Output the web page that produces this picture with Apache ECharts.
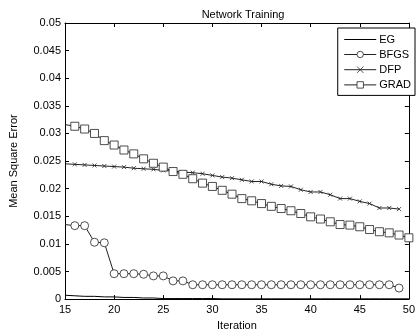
<!DOCTYPE html>
<html>
<head>
<meta charset="utf-8">
<script src="https://cdn.jsdelivr.net/npm/echarts@6/dist/echarts.min.js"></script>
<style>html,body{margin:0;padding:0;background:#fff}#c{width:418px;height:336px}</style>
</head>
<body>
<div id="c"></div>
<script>
const iterations = [15,16,17,18,19,20,21,22,23,24,25,26,27,28,29,30,31,32,33,34,35,36,37,38,39,40,41,42,43,44,45,46,47,48,49,50];
const EG = [0.0007,0.0006,0.0005,0.0005,0.0004,0.0004,0.0003,0.0003,0.0002,0.0002,0.0001,0.0001,0.0001,0.0001,0.0001,0.0001,0.00005,0.00005,0.00005,0.00005,0.00005,0.00005,0.00005,0.00005,0.00005,0.00005,0.00005,0.00005,0.00005,0.00005,0.00005,0.00005,0.00005,0.00005,0.00005,0.00005];
const BFGS = [0.0135,0.0133,0.0133,0.0103,0.0102,0.0046,0.0046,0.0046,0.0045,0.0042,0.0042,0.0033,0.0033,0.0026,0.0026,0.0026,0.0026,0.0026,0.0026,0.0026,0.0026,0.0026,0.0026,0.0026,0.0026,0.0026,0.0026,0.0026,0.0026,0.0026,0.0026,0.0026,0.0026,0.0026,0.0020];
const DFP = [0.0245,0.0244,0.0243,0.0242,0.0241,0.0240,0.0239,0.0237,0.0236,0.0235,0.0233,0.0232,0.0230,0.0229,0.0227,0.0224,0.0221,0.0219,0.0216,0.0213,0.0213,0.0208,0.0205,0.0204,0.0198,0.0194,0.0194,0.0189,0.0182,0.0182,0.0177,0.0173,0.0165,0.0165,0.0163];
const GRAD = [0.0316,0.0313,0.0308,0.0300,0.0287,0.0279,0.0270,0.0263,0.0254,0.0246,0.0239,0.0231,0.0226,0.0218,0.0210,0.0204,0.0197,0.0190,0.0182,0.0178,0.0173,0.0168,0.0164,0.0160,0.0155,0.0149,0.0145,0.0140,0.0135,0.0134,0.0131,0.0126,0.0122,0.0120,0.0116,0.0111];
const xTicks = [15,20,25,30,35,40,45,50];
const seriesNames = ['EG','BFGS','DFP','GRAD'];

function pairs(vals){
  return vals.map((v,i)=> i===0 ? {value:[iterations[i],v], symbol:'none'} : [iterations[i],v]);
}
const FONT = 'Liberation Sans, Arial, sans-serif';
const chart = echarts.init(document.getElementById('c'), null, {renderer:'canvas'});
const axisCommon = {
  axisLine:{show:true, onZero:false, lineStyle:{color:'#000', width:1}},
  axisTick:{show:true, inside:true, length:4, lineStyle:{color:'#000'}},
  splitLine:{show:false}
};
const lineIcon = 'path://M0,3.6L32,3.6L32,4.4L0,4.4Z';
chart.setOption({
  animation:false,
  backgroundColor:'#fff',
  title:{text:'Network Training', left:238, top:4, textAlign:'center',
    textStyle:{fontFamily:FONT, fontSize:11, fontWeight:'normal', color:'#000'}},
  grid:{left:60, right:1, top:23, bottom:33, containLabel:false},
  legend:{
    orient:'vertical', right:3, top:28,
    data:[{name:seriesNames[0], icon:lineIcon}, seriesNames[1], seriesNames[2], seriesNames[3]],
    backgroundColor:'#fff', borderColor:'#000', borderWidth:1,
    padding:[6,4,5,6], itemGap:4, itemWidth:32, itemHeight:8,
    itemStyle:{borderWidth:0.8},
    lineStyle:{width:1},
    textStyle:{fontFamily:FONT, fontSize:11, color:'#000', padding:[0,0,0,-2]}
  },
  xAxis:[
    Object.assign({type:'value', min:15, max:50, interval:5, position:'bottom',
      name:'Iteration', nameLocation:'middle', nameGap:19,
      nameTextStyle:{fontFamily:FONT, fontSize:11, color:'#000'},
      axisLabel:{fontFamily:FONT, fontSize:11, color:'#000', margin:5,
        formatter:v=> xTicks.includes(v) ? String(v) : ''}}, axisCommon),
    Object.assign({type:'value', min:15, max:50, interval:5, position:'top',
      axisLabel:{show:false}}, axisCommon)
  ],
  yAxis:[
    Object.assign({type:'value', min:0, max:0.05, interval:0.005, position:'left',
      name:'Mean Square Error', nameLocation:'middle', nameGap:46, nameRotate:90,
      nameTextStyle:{fontFamily:FONT, fontSize:11, color:'#000'},
      axisLabel:{fontFamily:FONT, fontSize:11, color:'#000', margin:4,
        formatter:v=> String(+v.toFixed(3))}}, axisCommon),
    Object.assign({type:'value', min:0, max:0.05, interval:0.005, position:'right',
      axisLabel:{show:false}}, axisCommon)
  ],
  series:[
    {name:'EG', type:'line', data:EG.map((v,i)=>[iterations[i],v]), showSymbol:false, symbol:'none',
      lineStyle:{color:'#000', width:1}, itemStyle:{color:'#000'}, clip:true},
    {name:'BFGS', type:'line', data:pairs(BFGS), symbol:'circle', symbolSize:8,
      lineStyle:{color:'#222', width:1}, itemStyle:{color:'#fff', borderColor:'#222', borderWidth:0.8}, clip:true},
    {name:'DFP', type:'line', data:pairs(DFP), symbol:'path://M0 0L10 10M0 10L10 0', symbolSize:4,
      lineStyle:{color:'#222', width:1}, itemStyle:{color:'none', borderColor:'#222', borderWidth:0.8}, clip:true},
    {name:'GRAD', type:'line', data:pairs(GRAD), symbol:'rect', symbolSize:8,
      lineStyle:{color:'#222', width:1}, itemStyle:{color:'#fff', borderColor:'#222', borderWidth:0.8}, clip:true}
  ]
});
</script>
</body>
</html>
